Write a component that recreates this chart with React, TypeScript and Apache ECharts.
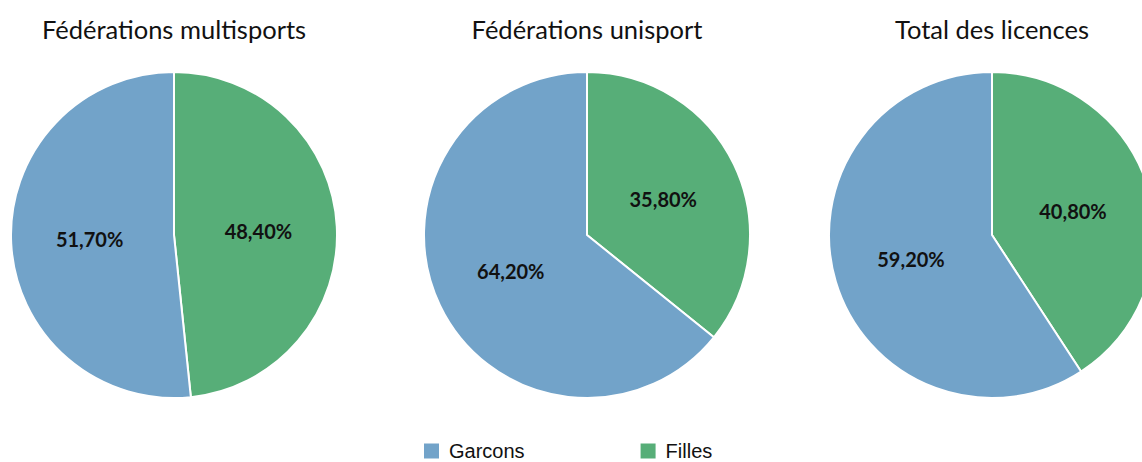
import React, { useEffect, useRef } from "react";
import * as echarts from "echarts";

const titles = ["Fédérations multisports", "Fédérations unisport", "Total des licences"];
const categories = ["Filles", "Garcons"];
const legendOrder = ["Garcons", "Filles"];
const filles = [48.4, 35.8, 40.8];
const garcons = [51.7, 64.2, 59.2];
const centersX = [174, 587, 992];

const colors: Record<string, string> = { Garcons: "#72A3C9", Filles: "#57AE78" };

export default function App() {
  const ref = useRef<HTMLDivElement>(null);
  useEffect(() => {
    const chart = echarts.init(ref.current!, null, { renderer: "svg" });
    const fmt = (p: any) => p.value.toFixed(2).replace(".", ",") + "%";
    chart.setOption({
      animation: false,
      title: titles.map((t, i) => ({
        text: t,
        left: centersX[i],
        top: 16,
        padding: 0,
        textAlign: "center",
        textStyle: { fontFamily: "Lato", fontSize: 25.5, fontWeight: "normal", color: "#111" },
      })),
      legend: {
        data: legendOrder,
        left: 422,
        top: 441,
        padding: 0,
        itemWidth: 17,
        itemHeight: 17,
        itemGap: 114,
        icon: "rect",
        textStyle: {
          fontFamily: "Liberation Sans",
          fontSize: 20,
          lineHeight: 18,
          color: "#111",
          padding: [0, 0, 0, 4],
        },
      },
      series: centersX.map((cx, i) => ({
        type: "pie",
        center: [cx, 235],
        radius: 163,
        startAngle: 90,
        clockwise: true,
        label: {
          show: true,
          position: "inside",
          formatter: fmt,
          fontFamily: "Lato",
          fontWeight: "bold",
          fontSize: 20,
          color: "#111",
        },
        labelLine: { show: false },
        emphasis: { disabled: true },
        itemStyle: { borderColor: "#fff", borderWidth: 2 },
        data: categories.map((c) => ({
          name: c,
          value: c === "Filles" ? filles[i] : garcons[i],
          itemStyle: { color: colors[c] },
        })),
      })),
    });
    return () => chart.dispose();
  }, []);
  return (
    <div
      ref={ref}
      style={{ position: "fixed", left: 0, top: 0, width: 1142, height: 462, background: "#fff" }}
    />
  );
}
